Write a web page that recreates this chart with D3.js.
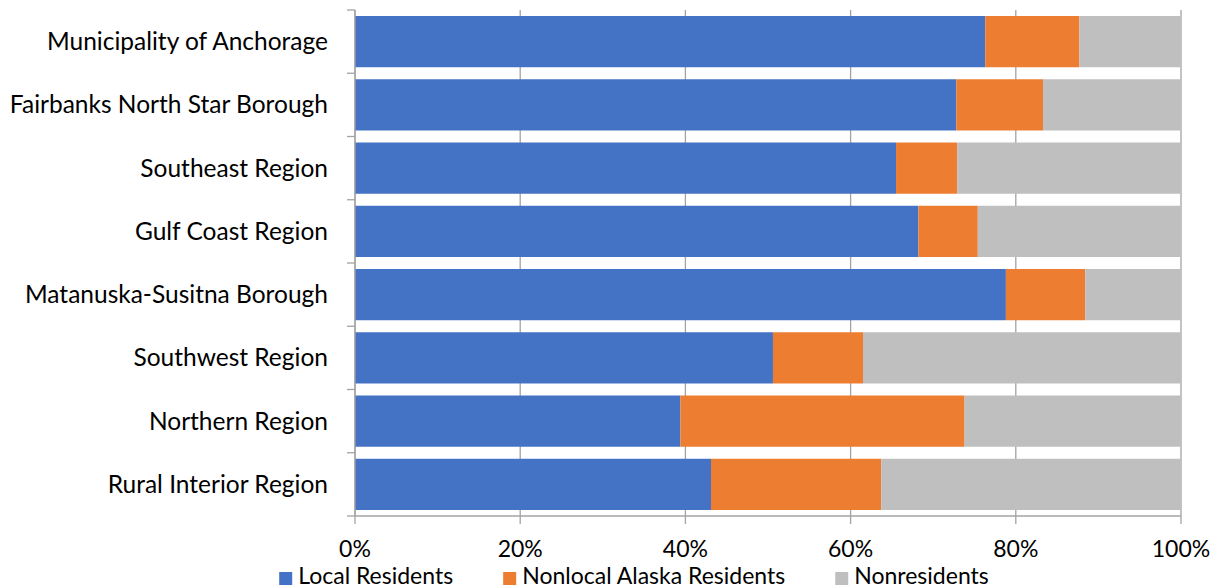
<!DOCTYPE html>
<html>
<head>
<meta charset="utf-8">
<script src="https://cdn.jsdelivr.net/npm/d3@7"></script>
<style>
  html, body { margin: 0; padding: 0; background: #fff; }
  svg { display: block; }
  text { font-family: Lato, "Open Sans", sans-serif; fill: #000; }
</style>
</head>
<body>
<svg id="chart" width="1214" height="588"></svg>
<script>
const categories = [
  "Municipality of Anchorage",
  "Fairbanks North Star Borough",
  "Southeast Region",
  "Gulf Coast Region",
  "Matanuska-Susitna Borough",
  "Southwest Region",
  "Northern Region",
  "Rural Interior Region"
];
const seriesNames = ["Local Residents", "Nonlocal Alaska Residents", "Nonresidents"];
const localResidents   = [76.3, 72.8, 65.5, 68.2, 78.8, 50.6, 39.4, 43.1];
const nonlocalAlaska   = [11.4, 10.5,  7.4,  7.2,  9.6, 10.9, 34.4, 20.6];
const nonresidents     = [12.3, 16.7, 27.1, 24.6, 11.6, 38.5, 26.2, 36.3];
const xTicks = [0, 20, 40, 60, 80, 100];
const colors = ["#4472C4", "#ED7D31", "#BFBFBF"];

const rows = categories.map((c, i) => ({
  category: c,
  "Local Residents": localResidents[i],
  "Nonlocal Alaska Residents": nonlocalAlaska[i],
  "Nonresidents": nonresidents[i]
}));

const svg = d3.select("#chart");
const margin = { left: 355, right: 33, top: 10, bottom: 72 };
const W = 1214, H = 588;

const x = d3.scaleLinear().domain([0, 100]).range([margin.left, W - margin.right]);
const y = d3.scaleBand().domain(categories).range([margin.top, H - margin.bottom])
  .paddingInner(0.19).paddingOuter(0.095);
const color = d3.scaleOrdinal().domain(seriesNames).range(colors);

const axisColor = "#a3a3a3";

// vertical gridlines (with tick extension below axis)
svg.append("g").selectAll("line").data(xTicks).join("line")
  .attr("x1", d => x(d)).attr("x2", d => x(d))
  .attr("y1", margin.top).attr("y2", H - margin.bottom + 8)
  .attr("stroke", axisColor).attr("stroke-width", 1.3);

// stacked bars
const stack = d3.stack().keys(seriesNames)(rows);
svg.append("g").selectAll("g").data(stack).join("g")
  .attr("fill", d => color(d.key))
  .selectAll("rect").data(d => d).join("rect")
  .attr("x", d => x(d[0]))
  .attr("width", d => x(d[1]) - x(d[0]))
  .attr("y", d => y(d.data.category))
  .attr("height", y.bandwidth());

// x axis line
svg.append("line")
  .attr("x1", x(0)).attr("x2", x(100))
  .attr("y1", H - margin.bottom).attr("y2", H - margin.bottom)
  .attr("stroke", axisColor).attr("stroke-width", 1.3);

// y axis line and category boundary ticks
svg.append("line")
  .attr("x1", x(0)).attr("x2", x(0))
  .attr("y1", margin.top).attr("y2", H - margin.bottom)
  .attr("stroke", axisColor).attr("stroke-width", 1.3);
const step = y.step();
const boundaries = d3.range(categories.length + 1).map(i => margin.top + i * step);
svg.append("g").selectAll("line").data(boundaries).join("line")
  .attr("x1", x(0) - 8).attr("x2", x(0))
  .attr("y1", d => d).attr("y2", d => d)
  .attr("stroke", axisColor).attr("stroke-width", 1.3);

// category labels
svg.append("g").selectAll("text").data(categories).join("text")
  .attr("x", x(0) - 27)
  .attr("y", d => y(d) + y.bandwidth() / 2)
  .attr("dy", "0.35em")
  .attr("text-anchor", "end")
  .style("font-size", "24.5px")
  .text(d => d);

// x tick labels
svg.append("g").selectAll("text").data(xTicks).join("text")
  .attr("x", d => x(d))
  .attr("y", 557)
  .attr("text-anchor", "middle")
  .style("font-size", "23px")
  .text(d => d + "%");

// legend
const legend = svg.append("g");
const items = legend.selectAll("g").data(seriesNames).join("g");
items.append("rect").attr("width", 13).attr("height", 13).attr("y", 572)
  .attr("fill", d => color(d));
items.append("text").attr("x", 19).attr("y", 584)
  .style("font-size", "23px").text(d => d);
let widths = [];
items.each(function() { widths.push(this.getBBox().width); });
const gap = 50;
const total = d3.sum(widths) + gap * (widths.length - 1);
let cx = 634 - total / 2;
items.attr("transform", (d, i) => {
  const t = `translate(${cx},0)`;
  cx += widths[i] + gap;
  return t;
});
</script>
</body>
</html>
